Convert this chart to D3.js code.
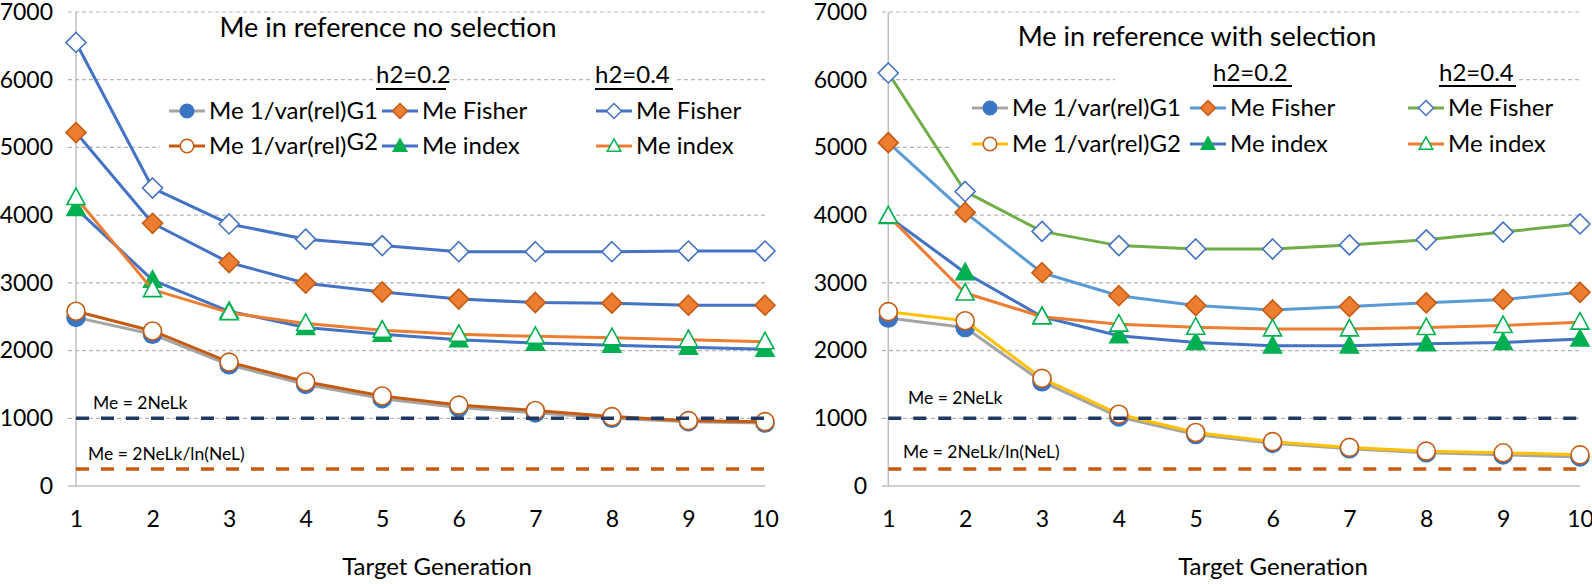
<!DOCTYPE html>
<html>
<head>
<meta charset="utf-8">
<script src="https://cdn.jsdelivr.net/npm/d3@7"></script>
<style>
  html, body { margin: 0; padding: 0; background: #fff; }
  svg { display: block; font-family: Lato, "Open Sans", sans-serif; }
</style>
</head>
<body>
<svg id="chart" width="1592" height="584"></svg>
<script>
// ---------- data ----------
const generations = [1, 2, 3, 4, 5, 6, 7, 8, 9, 10];
const yTicks = [0, 1000, 2000, 3000, 4000, 5000, 6000, 7000];
const refLevels = [1000, 250];
const refLabels = ["Me = 2NeLk", "Me = 2NeLk/ln(NeL)"];
const xAxisTitle = "Target Generation";
const panelTitles = ["Me in reference no selection", "Me in reference with selection"];
const legendGroups = ["h2=0.2", "h2=0.4"];
const seriesNames = ["Me 1/var(rel)G1", "Me 1/var(rel)G2", "Me Fisher", "Me index", "Me Fisher", "Me index"];

// Panel 1: no selection
const noSelG1       = [2490, 2240, 1790, 1500, 1290, 1160, 1080, 1000, 950, 930];
const noSelG2       = [2580, 2290, 1830, 1540, 1330, 1195, 1115, 1025, 965, 950];
const noSelFisher02 = [5220, 3880, 3300, 2995, 2865, 2760, 2710, 2700, 2670, 2670];
const noSelIndex02  = [4100, 3040, 2580, 2340, 2240, 2160, 2110, 2080, 2050, 2020];
const noSelFisher04 = [6550, 4400, 3870, 3645, 3550, 3460, 3460, 3460, 3470, 3470];
const noSelIndex04  = [4260, 2900, 2560, 2400, 2300, 2240, 2210, 2190, 2160, 2130];

// Panel 2: with selection
const selG1       = [2480, 2340, 1540, 1020, 760, 630, 550, 490, 460, 430];
const selG2       = [2575, 2440, 1590, 1060, 790, 655, 570, 515, 490, 460];
const selFisher02 = [5070, 4040, 3150, 2810, 2665, 2600, 2650, 2705, 2755, 2860];
const selIndex02  = [3980, 3150, 2500, 2220, 2120, 2070, 2070, 2100, 2120, 2170];
const selFisher04 = [6100, 4350, 3760, 3550, 3500, 3500, 3560, 3635, 3750, 3870];
const selIndex04  = [3990, 2850, 2500, 2390, 2345, 2320, 2320, 2340, 2370, 2420];

// ---------- styles ----------
const C = {
  gray: "#a5a5a5", blue: "#4472c4", ltblue: "#5b9bd5", orange: "#ed7d31",
  brown: "#c55a11", green: "#00b050", lgreen: "#70ad47", yellow: "#ffc000",
  navy: "#203864", markBlue: "#3a75c4"
};
const M = {
  circleFilled: { shape: "circle", fill: C.markBlue, stroke: C.markBlue },
  circleOpen:   { shape: "circle", fill: "#fff", stroke: C.brown },
  diamondOrange:{ shape: "diamond", fill: C.orange, stroke: C.brown },
  triFilled:    { shape: "triangle", fill: C.green, stroke: C.green },
  diamondOpen:  { shape: "diamond", fill: "#fff", stroke: C.blue },
  triOpen:      { shape: "triangle", fill: "#fff", stroke: C.green }
};

const panels = [
  {
    x0: 76, x1: 765, gridLeft: 68, title: panelTitles[0], titleX: 388, titleY: 37,
    series: [
      { v: noSelG1, line: C.gray, m: M.circleFilled },
      { v: noSelG2, line: C.brown, m: M.circleOpen },
      { v: noSelFisher02, line: C.blue, m: M.diamondOrange },
      { v: noSelIndex02, line: C.blue, m: M.triFilled },
      { v: noSelFisher04, line: C.blue, m: M.diamondOpen },
      { v: noSelIndex04, line: C.orange, m: M.triOpen }
    ],
    legend: {
      rows: [111, 146], cols: [187, 400, 614], textDx: 22, sup: true,
      groups: [{ x: 376, w: 70 }, { x: 595, w: 78 }], groupY: 83, ulY: 89,
      box: [160, 94, 765, 166], boxes: [[374, 62, 448, 92], [593, 62, 675, 92]]
    },
    refLabelX: [93, 88], refLabelY: [409, 460], axisTitleX: 437
  },
  {
    x0: 888.3, x1: 1580, gridLeft: 882, title: panelTitles[1], titleX: 1197, titleY: 46,
    series: [
      { v: selG1, line: C.gray, m: M.circleFilled },
      { v: selG2, line: C.yellow, m: M.circleOpen },
      { v: selFisher02, line: C.ltblue, m: M.diamondOrange },
      { v: selIndex02, line: C.blue, m: M.triFilled },
      { v: selFisher04, line: C.lgreen, m: M.diamondOpen },
      { v: selIndex04, line: C.orange, m: M.triOpen }
    ],
    legend: {
      rows: [108, 144], cols: [990, 1208, 1426], textDx: 22, sup: false,
      groups: [{ x: 1213, w: 79 }, { x: 1439, w: 77 }], groupY: 81, ulY: 86,
      box: [950, 92, 1580, 166], boxes: [[1115, 60, 1517, 92]]
    },
    refLabelX: [908, 903], refLabelY: [404, 458], axisTitleX: 1273
  }
];

const svg = d3.select("#chart");
const yScale = d3.scaleLinear().domain([0, 7000]).range([486, 12]);

function markerPath(shape, s) {
  if (shape === "circle") return d3.symbol(d3.symbolCircle, Math.PI * (9 * s) * (9 * s))();
  if (shape === "diamond") { const r = 10 * s; return `M0,${-r}L${r},0L0,${r}L${-r},0Z`; }
  const w = 9 * s, t = 9.5 * s, b = 7 * s;
  return `M0,${-t}L${w},${b}L${-w},${b}Z`;
}

panels.forEach(p => {
  const g = svg.append("g");
  const x = d3.scaleLinear().domain([1, 10]).range([p.x0, p.x1]);

  // gridlines
  g.append("g").selectAll("line").data(yTicks.filter(t => t > 0)).join("line")
    .attr("x1", p.gridLeft).attr("x2", p.x1)
    .attr("y1", d => yScale(d)).attr("y2", d => yScale(d))
    .attr("stroke", "#b4b4b4").attr("stroke-width", 1.2).attr("stroke-dasharray", "4,3");

  // legend backgrounds (cover gridlines)
  const L = p.legend;
  [L.box, ...L.boxes].forEach(b =>
    g.append("rect").attr("x", b[0]).attr("y", b[1]).attr("width", b[2] - b[0]).attr("height", b[3] - b[1]).attr("fill", "#fff"));

  // axes lines
  g.append("line").attr("x1", p.gridLeft).attr("x2", p.x1).attr("y1", yScale(0)).attr("y2", yScale(0))
    .attr("stroke", "#bfbfbf").attr("stroke-width", 1.5);
  g.append("line").attr("x1", p.x0).attr("x2", p.x0).attr("y1", yScale(7000)).attr("y2", yScale(0))
    .attr("stroke", "#bfbfbf").attr("stroke-width", 1.5);

  // y tick labels
  const yAxis = d3.axisLeft(yScale).tickValues(yTicks).tickSize(0).tickPadding(0).tickFormat(d3.format("d"));
  const ya = g.append("g").attr("transform", `translate(${p.gridLeft - 15},0)`).call(yAxis);
  ya.select(".domain").remove();
  ya.selectAll("text").attr("font-size", 23).attr("fill", "#000").attr("font-family", "Lato, sans-serif");

  // x tick labels
  const xAxis = d3.axisBottom(x).tickValues(generations).tickSize(0).tickPadding(0).tickFormat(d3.format("d"));
  const xa = g.append("g").attr("transform", `translate(0,${yScale(0) + 25})`).call(xAxis);
  xa.select(".domain").remove();
  xa.selectAll("text").attr("font-size", 23).attr("fill", "#000").attr("font-family", "Lato, sans-serif");

  // axis title
  g.append("text").attr("x", p.axisTitleX).attr("y", 575).attr("text-anchor", "middle")
    .attr("font-size", 24).text(xAxisTitle);

  // panel title
  g.append("text").attr("x", p.titleX).attr("y", p.titleY).attr("text-anchor", "middle")
    .attr("font-size", 27).text(p.title);

  // series
  const line = d3.line().x((d, i) => x(generations[i])).y(d => yScale(d));
  p.series.forEach(s => {
    g.append("path").attr("d", line(s.v)).attr("fill", "none")
      .attr("stroke", s.line).attr("stroke-width", 3).attr("stroke-linejoin", "round");
    g.append("g").selectAll("path").data(s.v).join("path")
      .attr("d", markerPath(s.m.shape, 1))
      .attr("transform", (d, i) => `translate(${x(generations[i])},${yScale(d)})`)
      .attr("fill", s.m.fill).attr("stroke", s.m.stroke).attr("stroke-width", 1.6);
  });

  // reference dashed lines
  const refColors = [C.navy, C.brown];
  refLevels.forEach((lv, i) => {
    g.append("line").attr("x1", x(1)).attr("x2", x(10)).attr("y1", yScale(lv)).attr("y2", yScale(lv))
      .attr("stroke", refColors[i]).attr("stroke-width", 3.5).attr("stroke-dasharray", "13,12");
    g.append("text").attr("x", p.refLabelX[i]).attr("y", p.refLabelY[i]).attr("font-size", 17.5)
      .text(refLabels[i]);
  });

  // legend
  const order = [[0, 0, 0], [1, 1, 0], [2, 0, 1], [3, 1, 1], [4, 0, 2], [5, 1, 2]];
  order.forEach(([si, r, c]) => {
    const s = p.series[si];
    const cx = L.cols[c], cy = L.rows[r];
    g.append("line").attr("x1", cx - 18).attr("x2", cx + 18).attr("y1", cy).attr("y2", cy)
      .attr("stroke", s.line).attr("stroke-width", 3);
    g.append("path").attr("d", markerPath(s.m.shape, 0.75)).attr("transform", `translate(${cx},${cy})`)
      .attr("fill", s.m.fill).attr("stroke", s.m.stroke).attr("stroke-width", 1.5);
    const name = seriesNames[si];
    const t = g.append("text").attr("x", cx + L.textDx).attr("y", cy + 8).attr("font-size", 24);
    if (si < 2) {
      t.append("tspan").text(name.slice(0, -2));
      const sup = t.append("tspan").text(name.slice(-2));
      if (L.sup && si === 1) sup.attr("dy", -4);
    } else {
      t.text(name);
    }
  });
  L.groups.forEach((gr, i) => {
    g.append("text").attr("x", gr.x).attr("y", L.groupY).attr("font-size", 24).text(legendGroups[i]);
    g.append("line").attr("x1", gr.x).attr("x2", gr.x + gr.w).attr("y1", L.ulY).attr("y2", L.ulY)
      .attr("stroke", "#000").attr("stroke-width", 2);
  });
});
</script>
</body>
</html>
